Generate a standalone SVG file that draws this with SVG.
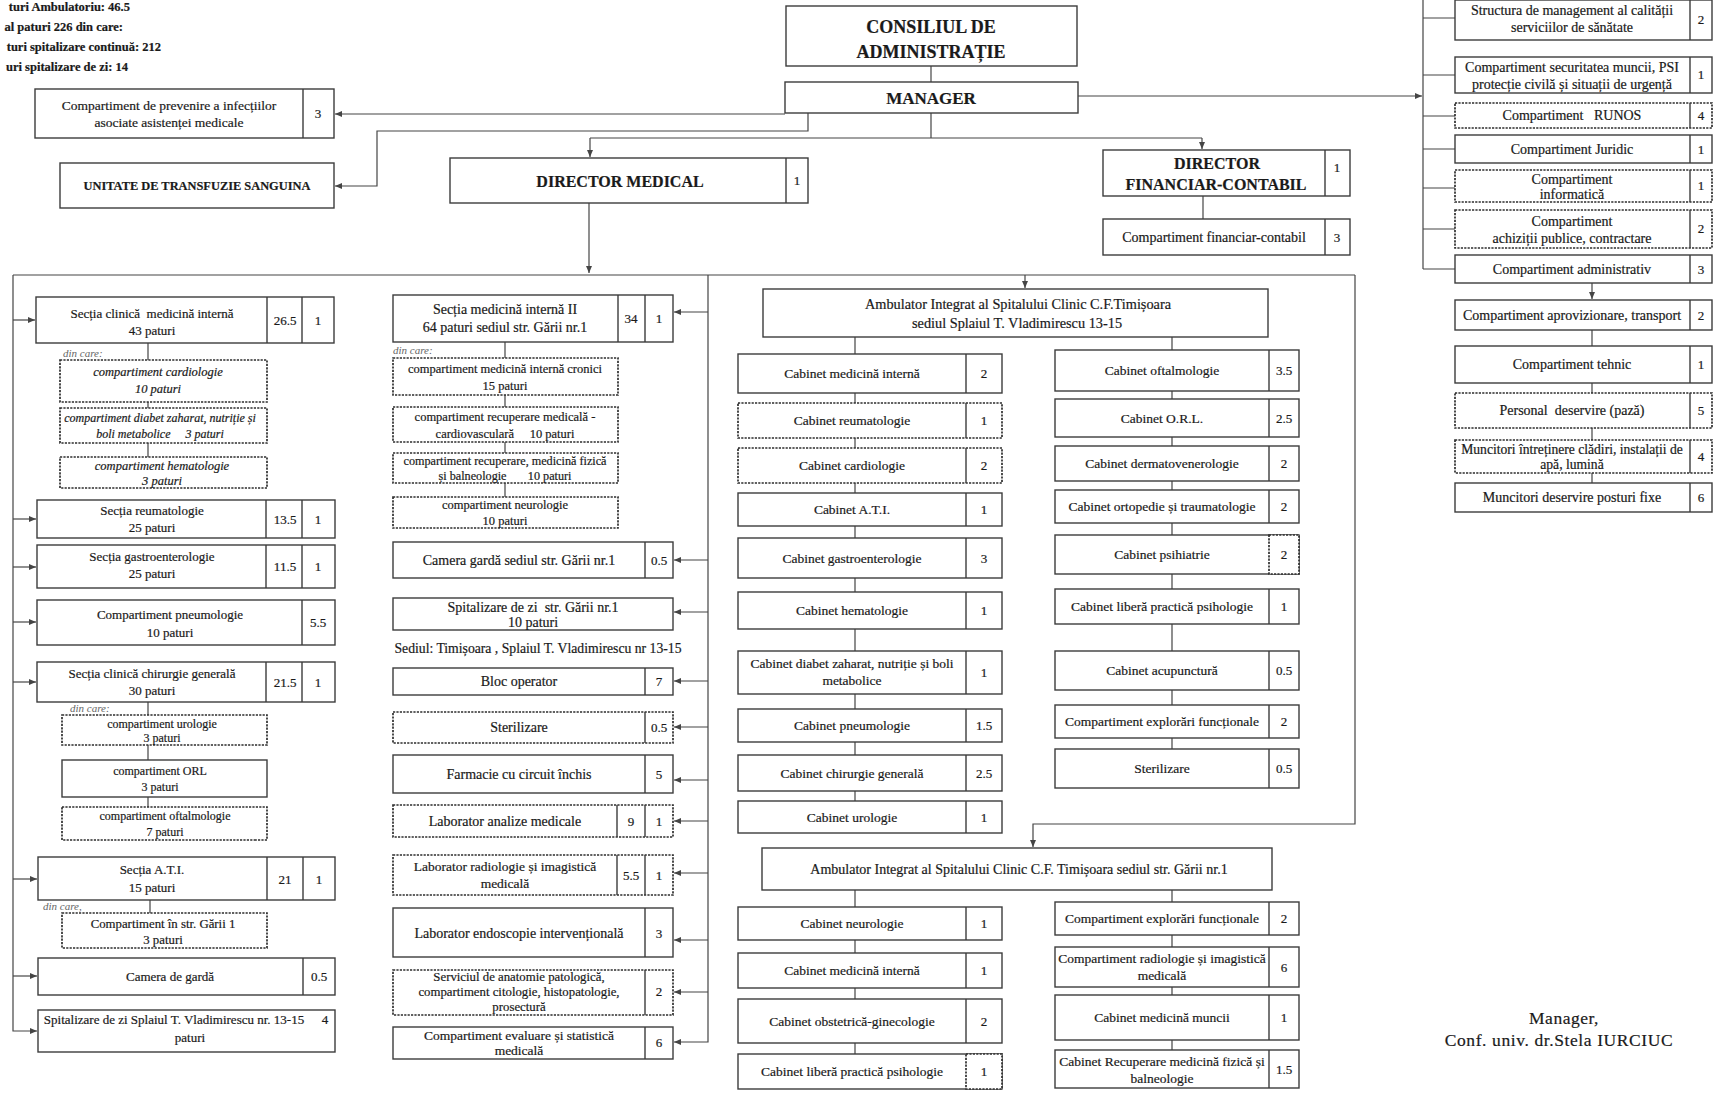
<svg xmlns="http://www.w3.org/2000/svg" width="1723" height="1096" viewBox="0 0 1723 1096">
<style>
.b{fill:#fff;stroke:#3c3c3c;stroke-width:1.4}
.d{fill:#fff;stroke:#2e2e2e;stroke-width:1.7;stroke-dasharray:2.2 1.2}
.v{stroke:#3c3c3c;stroke-width:1.4}
text{font-family:"Liberation Serif","Times New Roman",serif;font-size:13.5px;fill:#1a1a1a;stroke:#1a1a1a;stroke-width:0.2;text-anchor:middle}
.n{font-size:13px}
.l{font-size:13px}
.i{font-style:italic;font-size:12.5px}
.s{font-size:12.5px}
.s2{font-size:12px}
.r{font-size:14px}
.m{font-size:14px}
.h{font-weight:bold}
.dc{font-style:italic;font-size:11px;fill:#666;stroke:none;text-anchor:start}
.c path{fill:none;stroke:#454545;stroke-width:1.2}
.c .a{marker-end:url(#ar)}
</style>
<defs>
<marker id="ar" markerUnits="userSpaceOnUse" markerWidth="7" markerHeight="6" refX="7" refY="3" orient="auto"><path d="M0,0L7,3L0,6z" fill="#454545"/></marker>
</defs>
<rect width="1723" height="1096" fill="#fff"/>

<g id="connectors" class="c">
<path d="M931,66V82"/>
<path d="M931,113V138M590,138H1202"/>
<path class="a" d="M590,138V157"/>
<path class="a" d="M1202,138V149"/>
<path class="a" d="M808,113V131H377V186H335"/>
<path class="a" d="M785,114H335"/>
<path class="a" d="M1078,96H1422"/>
<path d="M1423,0V269M1423,18H1455M1423,75H1455M1423,116H1455M1423,149H1455M1423,188H1455M1423,229H1455M1423,269H1455"/>
<path class="a" d="M1592,283V299"/>
<path d="M1592,330V346M1592,383V393M1592,428V440M1592,473V483"/>
<path d="M1203,196V219"/>
<path class="a" d="M589,203V273"/>
<path d="M13,275H1355"/>
<path class="a" d="M13,275V1031H37"/>
<path class="a" d="M13,320H35"/>
<path class="a" d="M13,519H36"/>
<path class="a" d="M13,567H36"/>
<path class="a" d="M13,622H36"/>
<path class="a" d="M13,682H36"/>
<path class="a" d="M13,879H37"/>
<path class="a" d="M13,976H37"/>
<path d="M148,343V360M148,402V408M148,443V457M148,702V715M148,745V760M148,797V807M150,900V913"/>
<path class="a" d="M708,275V1042H674"/>
<path class="a" d="M708,312H674"/>
<path class="a" d="M708,560H674"/>
<path class="a" d="M708,612H674"/>
<path class="a" d="M708,681H674"/>
<path class="a" d="M708,727H674"/>
<path class="a" d="M708,780H674"/>
<path class="a" d="M708,821H674"/>
<path class="a" d="M708,873H674"/>
<path class="a" d="M708,940H674"/>
<path class="a" d="M708,992H674"/>
<path d="M505,342V358M505,395V407M505,442V453M505,483V497"/>
<path class="a" d="M1025,275V288"/>
<path class="a" d="M1355,275V824H1033V847"/>
<path d="M855,337V354M855,393V403M855,438V448M855,483V493M855,526V538M855,578V592M855,629V651M855,694V709M855,742V755M855,791V801"/>
<path d="M1172,337V350M1172,391V399M1172,437V446M1172,481V490M1172,523V535M1172,574V589M1172,624V651M1172,690V705M1172,738V749"/>
<path d="M855,890V907M855,940V953M855,988V999M855,1043V1054"/>
<path d="M1172,890V902M1172,935V947M1172,987V995M1172,1040V1050"/>
</g>

<g id="info" class="h">
<text x="130" y="11" style="text-anchor:end;font-size:12.5px">turi Ambulatoriu: 46.5</text>
<text x="123" y="31" style="text-anchor:end;font-size:12.5px">al paturi 226 din care:</text>
<text x="161" y="51" style="text-anchor:end;font-size:12.5px">turi spitalizare continuă: 212</text>
<text x="128" y="71" style="text-anchor:end;font-size:12.5px">uri spitalizare de zi: 14</text>
</g>

<g id="consiliul"><rect class="b" x="786" y="6" width="291" height="60"/><text class="h" x="931" y="33" style="font-size:18px">CONSILIUL DE</text><text class="h" x="931" y="58" style="font-size:18px">ADMINISTRAȚIE</text></g>
<g id="manager"><rect class="b" x="785" y="82" width="293" height="31"/><text class="h" x="931" y="104" style="font-size:17px">MANAGER</text></g>
<g id="prevenire"><rect class="b" x="35" y="89" width="299" height="49"/><line class="v" x1="303" y1="89" x2="303" y2="138"/><text x="169" y="110">Compartiment de prevenire a infecțiilor</text><text x="169" y="127">asociate asistenței medicale</text><text class="n" x="318" y="118">3</text></g>
<g id="unitate"><rect class="b" x="60" y="163" width="274" height="45"/><text class="h" x="197" y="190" style="font-size:12.4px">UNITATE DE TRANSFUZIE SANGUINA</text></g>
<g id="director-medical"><rect class="b" x="450" y="158" width="358" height="45"/><line class="v" x1="786" y1="158" x2="786" y2="203"/><text class="h" x="620" y="187" style="font-size:16px">DIRECTOR MEDICAL</text><text class="n" x="797" y="185">1</text></g>
<g id="director-financiar"><rect class="b" x="1103" y="150" width="247" height="46"/><line class="v" x1="1325" y1="150" x2="1325" y2="196"/><text class="h" x="1217" y="169" style="font-size:16px">DIRECTOR</text><text class="h" x="1216" y="190" style="font-size:16px">FINANCIAR-CONTABIL</text><text class="n" x="1337" y="172">1</text></g>
<g id="financiar-contabil"><rect class="b" x="1103" y="219" width="247" height="36"/><line class="v" x1="1325" y1="219" x2="1325" y2="255"/><text x="1214" y="242" style="font-size:14px">Compartiment financiar-contabil</text><text class="n" x="1337" y="242">3</text></g>

<g id="r-calitate"><rect class="b" x="1455" y="0" width="257" height="40"/><line class="v" x1="1690" y1="0" x2="1690" y2="40"/><text class="r" x="1572" y="15">Structura de management al calității</text><text class="r" x="1572" y="32">serviciilor de sănătate</text><text class="n" x="1701" y="24">2</text></g>
<g id="r-securitate"><rect class="b" x="1455" y="57" width="257" height="36"/><line class="v" x1="1690" y1="57" x2="1690" y2="93"/><text class="r" x="1572" y="72">Compartiment securitatea muncii, PSI</text><text class="r" x="1572" y="89">protecție civilă și situații de urgență</text><text class="n" x="1701" y="79">1</text></g>
<g id="r-runos"><rect class="d" x="1455" y="103" width="257" height="25"/><line class="v" x1="1690" y1="103" x2="1690" y2="128"/><text class="r" x="1572" y="120">Compartiment &#160; RUNOS</text><text class="n" x="1701" y="120">4</text></g>
<g id="r-juridic"><rect class="b" x="1455" y="135" width="257" height="28"/><line class="v" x1="1690" y1="135" x2="1690" y2="163"/><text class="r" x="1572" y="154">Compartiment Juridic</text><text class="n" x="1701" y="154">1</text></g>
<g id="r-informatica"><rect class="d" x="1455" y="170" width="257" height="32"/><line class="v" x1="1690" y1="170" x2="1690" y2="202"/><text class="r" x="1572" y="184">Compartiment</text><text class="r" x="1572" y="199">informatică</text><text class="n" x="1701" y="190">1</text></g>
<g id="r-achizitii"><rect class="d" x="1455" y="210" width="257" height="38"/><line class="v" x1="1690" y1="210" x2="1690" y2="248"/><text class="r" x="1572" y="226">Compartiment</text><text class="r" x="1572" y="243">achiziții publice, contractare</text><text class="n" x="1701" y="233">2</text></g>
<g id="r-administrativ"><rect class="b" x="1455" y="255" width="257" height="28"/><line class="v" x1="1690" y1="255" x2="1690" y2="283"/><text class="r" x="1572" y="274">Compartiment administrativ</text><text class="n" x="1701" y="274">3</text></g>
<g id="r-aprovizionare"><rect class="b" x="1455" y="300" width="257" height="30"/><line class="v" x1="1690" y1="300" x2="1690" y2="330"/><text class="r" x="1572" y="320">Compartiment aprovizionare, transport</text><text class="n" x="1701" y="320">2</text></g>
<g id="r-tehnic"><rect class="b" x="1455" y="346" width="257" height="37"/><line class="v" x1="1690" y1="346" x2="1690" y2="383"/><text class="r" x="1572" y="369">Compartiment tehnic</text><text class="n" x="1701" y="369">1</text></g>
<g id="r-paza"><rect class="d" x="1455" y="393" width="257" height="35"/><line class="v" x1="1690" y1="393" x2="1690" y2="428"/><text class="r" x="1572" y="415">Personal &#160;deservire (pază)</text><text class="n" x="1701" y="415">5</text></g>
<g id="r-intretinere"><rect class="d" x="1455" y="440" width="257" height="33"/><line class="v" x1="1690" y1="440" x2="1690" y2="473"/><text x="1572" y="454" style="font-size:13.6px">Muncitori întreținere clădiri, instalații de</text><text x="1572" y="469" style="font-size:13.6px">apă, lumină</text><text class="n" x="1701" y="461">4</text></g>
<g id="r-posturi"><rect class="b" x="1455" y="483" width="257" height="29"/><line class="v" x1="1690" y1="483" x2="1690" y2="512"/><text class="r" x="1572" y="502">Muncitori deservire posturi fixe</text><text class="n" x="1701" y="502">6</text></g>

<g id="l-interna"><rect class="b" x="36" y="297" width="298" height="46"/><line class="v" x1="267" y1="297" x2="267" y2="343"/><line class="v" x1="302" y1="297" x2="302" y2="343"/><text class="l" x="152" y="318">Secția clinică &#160;medicină internă</text><text class="l" x="152" y="335">43 paturi</text><text class="n" x="285" y="325">26.5</text><text class="n" x="318" y="325">1</text></g>
<text class="dc" x="63" y="357">din care:</text>
<g id="l-cardiologie"><rect class="d" x="60" y="360" width="207" height="42"/><text class="i" x="158" y="376">compartiment cardiologie</text><text class="i" x="158" y="393">10 paturi</text></g>
<g id="l-diabet"><rect class="d" x="60" y="408" width="207" height="35"/><text class="i" x="160" y="422" style="font-size:12px">compartiment diabet zaharat, nutriție și</text><text class="i" x="160" y="438" style="font-size:12px">boli metabolice &#160; &#160; 3 paturi</text></g>
<g id="l-hematologie"><rect class="d" x="60" y="457" width="207" height="31"/><text class="i" x="162" y="470">compartiment hematologie</text><text class="i" x="162" y="485">3 paturi</text></g>
<g id="l-reumatologie"><rect class="b" x="37" y="500" width="298" height="38"/><line class="v" x1="266" y1="500" x2="266" y2="538"/><line class="v" x1="302" y1="500" x2="302" y2="538"/><text class="l" x="152" y="515">Secția reumatologie</text><text class="l" x="152" y="532">25 paturi</text><text class="n" x="285" y="524">13.5</text><text class="n" x="318" y="524">1</text></g>
<g id="l-gastro"><rect class="b" x="37" y="545" width="298" height="43"/><line class="v" x1="266" y1="545" x2="266" y2="588"/><line class="v" x1="302" y1="545" x2="302" y2="588"/><text class="l" x="152" y="561">Secția gastroenterologie</text><text class="l" x="152" y="578">25 paturi</text><text class="n" x="285" y="571">11.5</text><text class="n" x="318" y="571">1</text></g>
<g id="l-pneumologie"><rect class="b" x="37" y="600" width="298" height="45"/><line class="v" x1="302" y1="600" x2="302" y2="645"/><text class="l" x="170" y="619">Compartiment pneumologie</text><text class="l" x="170" y="637">10 paturi</text><text class="n" x="318" y="627">5.5</text></g>
<g id="l-chirurgie"><rect class="b" x="37" y="662" width="298" height="40"/><line class="v" x1="266" y1="662" x2="266" y2="702"/><line class="v" x1="302" y1="662" x2="302" y2="702"/><text class="l" x="152" y="678">Secția clinică chirurgie generală</text><text class="l" x="152" y="695">30 paturi</text><text class="n" x="285" y="687">21.5</text><text class="n" x="318" y="687">1</text></g>
<text class="dc" x="70" y="712">din care:</text>
<g id="l-urologie"><rect class="d" x="62" y="715" width="205" height="30"/><text class="s2" x="162" y="728">compartiment urologie</text><text class="s2" x="162" y="742">3 paturi</text></g>
<g id="l-orl"><rect class="b" x="62" y="760" width="205" height="37"/><text class="s2" x="160" y="775">compartiment ORL</text><text class="s2" x="160" y="791">3 paturi</text></g>
<g id="l-oftalmologie"><rect class="d" x="62" y="807" width="205" height="33"/><text class="s2" x="165" y="820">compartiment oftalmologie</text><text class="s2" x="165" y="836">7 paturi</text></g>
<g id="l-ati"><rect class="b" x="38" y="857" width="297" height="43"/><line class="v" x1="267" y1="857" x2="267" y2="900"/><line class="v" x1="303" y1="857" x2="303" y2="900"/><text class="l" x="152" y="874">Secția A.T.I.</text><text class="l" x="152" y="892">15 paturi</text><text class="n" x="285" y="884">21</text><text class="n" x="319" y="884">1</text></g>
<text class="dc" x="43" y="910">din care,</text>
<g id="l-garii"><rect class="d" x="62" y="913" width="205" height="35"/><text x="163" y="928" style="font-size:12.8px">Compartiment în str. Gării 1</text><text x="163" y="944" style="font-size:12.8px">3 paturi</text></g>
<g id="l-garda"><rect class="b" x="38" y="958" width="297" height="37"/><line class="v" x1="303" y1="958" x2="303" y2="995"/><text class="l" x="170" y="981">Camera de gardă</text><text class="n" x="319" y="981">0.5</text></g>
<g id="l-spitalizare"><rect class="b" x="38" y="1010" width="297" height="42"/><text class="l" x="174" y="1024">Spitalizare de zi Splaiul T. Vladimirescu nr. 13-15</text><text class="l" x="190" y="1042">paturi</text><text class="n" x="325" y="1024">4</text></g>

<g id="m-interna2"><rect class="b" x="393" y="295" width="280" height="47"/><line class="v" x1="618" y1="295" x2="618" y2="342"/><line class="v" x1="645" y1="295" x2="645" y2="342"/><text class="m" x="505" y="314">Secția medicină internă II</text><text class="m" x="505" y="332">64 paturi sediul str. Gării nr.1</text><text class="n" x="631" y="323">34</text><text class="n" x="659" y="323">1</text></g>
<text class="dc" x="393" y="354">din care:</text>
<g id="m-cronici"><rect class="d" x="393" y="358" width="225" height="37"/><text class="s" x="505" y="373">compartiment medicină internă cronici</text><text class="s" x="505" y="390">15 paturi</text></g>
<g id="m-cardiovasc"><rect class="d" x="393" y="407" width="225" height="35"/><text class="s" x="505" y="421">compartiment recuperare medicală -</text><text class="s" x="505" y="438">cardiovasculară &#160; &#160; 10 paturi</text></g>
<g id="m-balneo"><rect class="d" x="393" y="453" width="225" height="30"/><text x="505" y="465" style="font-size:12.2px">compartiment recuperare, medicină fizică</text><text x="505" y="480" style="font-size:12.2px">și balneologie &#160; &#160; &#160; 10 paturi</text></g>
<g id="m-neurologie"><rect class="d" x="393" y="497" width="225" height="31"/><text class="s" x="505" y="509">compartiment neurologie</text><text class="s" x="505" y="525">10 paturi</text></g>
<g id="m-garda"><rect class="b" x="393" y="542" width="280" height="36"/><line class="v" x1="645" y1="542" x2="645" y2="578"/><text class="m" x="519" y="565">Camera gardă sediul str. Gării nr.1</text><text class="n" x="659" y="565">0.5</text></g>
<g id="m-spitalizare"><rect class="b" x="393" y="598" width="280" height="32"/><text class="m" x="533" y="612">Spitalizare de zi &#160;str. Gării nr.1</text><text class="m" x="533" y="627">10 paturi</text></g>
<text x="538" y="653" style="font-size:13.7px">Sediul: Timișoara , Splaiul T. Vladimirescu nr 13-15</text>
<g id="m-bloc"><rect class="b" x="393" y="668" width="280" height="27"/><line class="v" x1="645" y1="668" x2="645" y2="695"/><text class="m" x="519" y="686">Bloc operator</text><text class="n" x="659" y="686">7</text></g>
<g id="m-sterilizare"><rect class="d" x="393" y="712" width="280" height="31"/><line class="v" x1="645" y1="712" x2="645" y2="743"/><text class="m" x="519" y="732">Sterilizare</text><text class="n" x="659" y="732">0.5</text></g>
<g id="m-farmacie"><rect class="b" x="393" y="755" width="280" height="38"/><line class="v" x1="645" y1="755" x2="645" y2="793"/><text class="m" x="519" y="779">Farmacie cu circuit închis</text><text class="n" x="659" y="779">5</text></g>
<g id="m-analize"><rect class="d" x="393" y="805" width="280" height="32"/><line class="v" x1="617" y1="805" x2="617" y2="837"/><line class="v" x1="645" y1="805" x2="645" y2="837"/><text class="m" x="505" y="826">Laborator analize medicale</text><text class="n" x="631" y="826">9</text><text class="n" x="659" y="826">1</text></g>
<g id="m-radiologie"><rect class="d" x="393" y="855" width="280" height="40"/><line class="v" x1="617" y1="855" x2="617" y2="895"/><line class="v" x1="645" y1="855" x2="645" y2="895"/><text x="505" y="871">Laborator radiologie și imagistică</text><text x="505" y="888">medicală</text><text class="n" x="631" y="880">5.5</text><text class="n" x="659" y="880">1</text></g>
<g id="m-endoscopie"><rect class="b" x="393" y="908" width="280" height="49"/><line class="v" x1="645" y1="908" x2="645" y2="957"/><text class="m" x="519" y="938">Laborator endoscopie intervențională</text><text class="n" x="659" y="938">3</text></g>
<g id="m-anatomie"><rect class="d" x="393" y="970" width="280" height="45"/><line class="v" x1="645" y1="970" x2="645" y2="1015"/><text x="519" y="981" style="font-size:12.8px">Serviciul de anatomie patologică,</text><text x="519" y="996" style="font-size:12.8px">compartiment citologie, histopatologie,</text><text x="519" y="1011" style="font-size:12.8px">prosectură</text><text class="n" x="659" y="996">2</text></g>
<g id="m-statistica"><rect class="b" x="393" y="1027" width="280" height="32"/><line class="v" x1="645" y1="1027" x2="645" y2="1059"/><text x="519" y="1040">Compartiment evaluare și statistică</text><text x="519" y="1055">medicală</text><text class="n" x="659" y="1047">6</text></g>

<g id="ambulator-1"><rect class="b" x="763" y="289" width="505" height="48"/><text x="1018" y="309" style="font-size:14.3px">Ambulator Integrat al Spitalului Clinic C.F.Timișoara</text><text x="1017" y="328" style="font-size:14.3px">sediul Splaiul T. Vladimirescu 13-15</text></g>
<g id="a-interna"><rect class="b" x="738" y="354" width="264" height="39"/><line class="v" x1="966" y1="354" x2="966" y2="393"/><text x="852" y="378">Cabinet medicină internă</text><text class="n" x="984" y="378">2</text></g>
<g id="a-reumatologie"><rect class="d" x="738" y="403" width="264" height="35"/><line class="v" x1="966" y1="403" x2="966" y2="438"/><text x="852" y="425">Cabinet reumatologie</text><text class="n" x="984" y="425">1</text></g>
<g id="a-cardiologie"><rect class="d" x="738" y="448" width="264" height="35"/><line class="v" x1="966" y1="448" x2="966" y2="483"/><text x="852" y="470">Cabinet cardiologie</text><text class="n" x="984" y="470">2</text></g>
<g id="a-ati"><rect class="b" x="738" y="493" width="264" height="33"/><line class="v" x1="966" y1="493" x2="966" y2="526"/><text x="852" y="514">Cabinet A.T.I.</text><text class="n" x="984" y="514">1</text></g>
<g id="a-gastro"><rect class="b" x="738" y="538" width="264" height="40"/><line class="v" x1="966" y1="538" x2="966" y2="578"/><text x="852" y="563">Cabinet gastroenterologie</text><text class="n" x="984" y="563">3</text></g>
<g id="a-hematologie"><rect class="b" x="738" y="592" width="264" height="37"/><line class="v" x1="966" y1="592" x2="966" y2="629"/><text x="852" y="615">Cabinet hematologie</text><text class="n" x="984" y="615">1</text></g>
<g id="a-diabet"><rect class="b" x="738" y="651" width="264" height="43"/><line class="v" x1="966" y1="651" x2="966" y2="694"/><text x="852" y="668">Cabinet diabet zaharat, nutriție și boli</text><text x="852" y="685">metabolice</text><text class="n" x="984" y="677">1</text></g>
<g id="a-pneumologie"><rect class="b" x="738" y="709" width="264" height="33"/><line class="v" x1="966" y1="709" x2="966" y2="742"/><text x="852" y="730">Cabinet pneumologie</text><text class="n" x="984" y="730">1.5</text></g>
<g id="a-chirurgie"><rect class="b" x="738" y="755" width="264" height="36"/><line class="v" x1="966" y1="755" x2="966" y2="791"/><text x="852" y="778">Cabinet chirurgie generală</text><text class="n" x="984" y="778">2.5</text></g>
<g id="a-urologie"><rect class="b" x="738" y="801" width="264" height="32"/><line class="v" x1="966" y1="801" x2="966" y2="833"/><text x="852" y="822">Cabinet urologie</text><text class="n" x="984" y="822">1</text></g>

<g id="a-oftalmologie"><rect class="b" x="1055" y="350" width="244" height="41"/><line class="v" x1="1269" y1="350" x2="1269" y2="391"/><text x="1162" y="375">Cabinet oftalmologie</text><text class="n" x="1284" y="375">3.5</text></g>
<g id="a-orl"><rect class="b" x="1055" y="399" width="244" height="38"/><line class="v" x1="1269" y1="399" x2="1269" y2="437"/><text x="1162" y="423">Cabinet O.R.L.</text><text class="n" x="1284" y="423">2.5</text></g>
<g id="a-dermato"><rect class="b" x="1055" y="446" width="244" height="35"/><line class="v" x1="1269" y1="446" x2="1269" y2="481"/><text x="1162" y="468">Cabinet dermatovenerologie</text><text class="n" x="1284" y="468">2</text></g>
<g id="a-ortopedie"><rect class="b" x="1055" y="490" width="244" height="33"/><line class="v" x1="1269" y1="490" x2="1269" y2="523"/><text x="1162" y="511">Cabinet ortopedie și traumatologie</text><text class="n" x="1284" y="511">2</text></g>
<g id="a-psihiatrie"><rect class="b" x="1055" y="535" width="244" height="39"/><rect class="d" x="1269" y="535" width="30" height="39"/><text x="1162" y="559">Cabinet psihiatrie</text><text class="n" x="1284" y="559">2</text></g>
<g id="a-psihologie"><rect class="b" x="1055" y="589" width="244" height="35"/><line class="v" x1="1269" y1="589" x2="1269" y2="624"/><text x="1162" y="611">Cabinet liberă practică psihologie</text><text class="n" x="1284" y="611">1</text></g>
<g id="a-acupunctura"><rect class="b" x="1055" y="651" width="244" height="39"/><line class="v" x1="1269" y1="651" x2="1269" y2="690"/><text x="1162" y="675">Cabinet acupunctură</text><text class="n" x="1284" y="675">0.5</text></g>
<g id="a-explorari"><rect class="b" x="1055" y="705" width="244" height="33"/><line class="v" x1="1269" y1="705" x2="1269" y2="738"/><text x="1162" y="726">Compartiment explorări funcționale</text><text class="n" x="1284" y="726">2</text></g>
<g id="a-sterilizare"><rect class="b" x="1055" y="749" width="244" height="39"/><line class="v" x1="1269" y1="749" x2="1269" y2="788"/><text x="1162" y="773">Sterilizare</text><text class="n" x="1284" y="773">0.5</text></g>

<g id="ambulator-2"><rect class="b" x="762" y="848" width="510" height="42"/><text x="1019" y="874" style="font-size:14px">Ambulator Integrat al Spitalului Clinic C.F. Timișoara sediul str. Gării nr.1</text></g>
<g id="b-neurologie"><rect class="b" x="738" y="907" width="264" height="33"/><line class="v" x1="966" y1="907" x2="966" y2="940"/><text x="852" y="928">Cabinet neurologie</text><text class="n" x="984" y="928">1</text></g>
<g id="b-interna"><rect class="b" x="738" y="953" width="264" height="35"/><line class="v" x1="966" y1="953" x2="966" y2="988"/><text x="852" y="975">Cabinet medicină internă</text><text class="n" x="984" y="975">1</text></g>
<g id="b-obstetrica"><rect class="b" x="738" y="999" width="264" height="44"/><line class="v" x1="966" y1="999" x2="966" y2="1043"/><text x="852" y="1026">Cabinet obstetrică-ginecologie</text><text class="n" x="984" y="1026">2</text></g>
<g id="b-psihologie"><rect class="b" x="738" y="1054" width="264" height="35"/><rect class="d" x="966" y="1054" width="36" height="35"/><text x="852" y="1076">Cabinet liberă practică psihologie</text><text class="n" x="984" y="1076">1</text></g>
<g id="b-explorari"><rect class="b" x="1055" y="902" width="244" height="33"/><line class="v" x1="1269" y1="902" x2="1269" y2="935"/><text x="1162" y="923">Compartiment explorări funcționale</text><text class="n" x="1284" y="923">2</text></g>
<g id="b-radiologie"><rect class="b" x="1055" y="947" width="244" height="40"/><line class="v" x1="1269" y1="947" x2="1269" y2="987"/><text x="1162" y="963">Compartiment radiologie și imagistică</text><text x="1162" y="980">medicală</text><text class="n" x="1284" y="972">6</text></g>
<g id="b-muncii"><rect class="b" x="1055" y="995" width="244" height="45"/><line class="v" x1="1269" y1="995" x2="1269" y2="1040"/><text x="1162" y="1022">Cabinet medicină muncii</text><text class="n" x="1284" y="1022">1</text></g>
<g id="b-recuperare"><rect class="b" x="1055" y="1050" width="244" height="38"/><line class="v" x1="1269" y1="1050" x2="1269" y2="1088"/><text x="1162" y="1066">Cabinet Recuperare medicină fizică și</text><text x="1162" y="1083">balneologie</text><text class="n" x="1284" y="1074">1.5</text></g>

<g id="semnatura"><text x="1564" y="1024" style="font-size:17.5px;letter-spacing:0.5px">Manager,</text><text x="1559" y="1046" style="font-size:17.5px;letter-spacing:0.6px">Conf. univ. dr.Stela IURCIUC</text></g>
</svg>
